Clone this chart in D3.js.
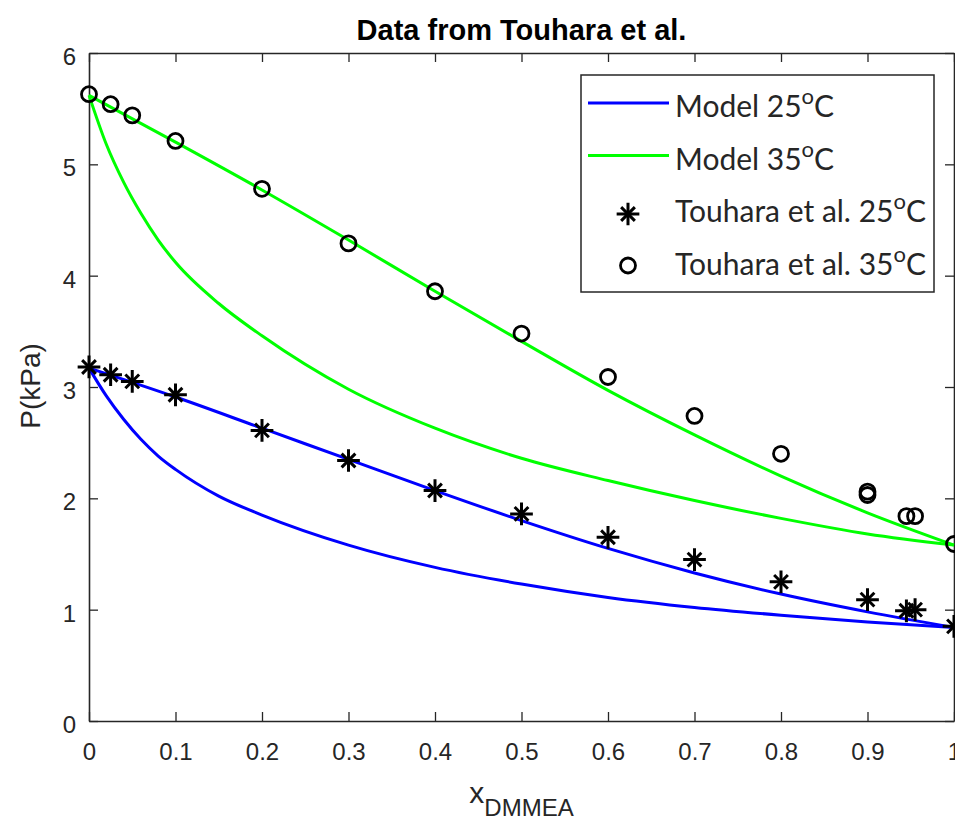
<!DOCTYPE html>
<html>
<head>
<meta charset="utf-8">
<script src="https://cdn.jsdelivr.net/npm/d3@7"></script>
<style>
  body { margin: 0; background: #fff; }
  svg { display: block; }
  .tick text { font-family: "Liberation Sans", Arial, sans-serif; font-size: 24px; fill: #262626; }
  .legend text { font-family: Lato, "Open Sans", sans-serif; font-size: 30px; fill: #262626; }
</style>
</head>
<body>
<svg width="955" height="820"></svg>
<script>
// Touhara et al. experimental points
var xData25 = [0, 0.025, 0.05, 0.1, 0.2, 0.3, 0.4, 0.5, 0.6, 0.7, 0.8, 0.9, 0.945, 0.955, 1];
var pData25 = [3.18, 3.11, 3.05, 2.93, 2.61, 2.34, 2.07, 1.86, 1.65, 1.45, 1.25, 1.09, 0.99, 1.00, 0.85];

var xData35 = [0, 0.025, 0.05, 0.1, 0.2, 0.3, 0.4, 0.5, 0.6, 0.7, 0.8, 0.9, 0.9, 0.945, 0.955, 1];
var pData35 = [5.63, 5.54, 5.44, 5.21, 4.78, 4.29, 3.86, 3.48, 3.09, 2.74, 2.40, 2.06, 2.03, 1.84, 1.84, 1.59];

// model curves (bubble = upper, dew = lower)
var xBubble = [0, 0.1, 0.2, 0.3, 0.4, 0.5, 0.6, 0.7, 0.8, 0.9, 1];
var pBubble25 = [3.17, 2.91, 2.63, 2.35, 2.07, 1.80, 1.55, 1.33, 1.14, 0.98, 0.84];
var pBubble35 = [5.62, 5.20, 4.77, 4.32, 3.86, 3.41, 2.97, 2.57, 2.20, 1.87, 1.58];

var xDew = [0, 0.02, 0.04, 0.06, 0.08, 0.1, 0.15, 0.2, 0.3, 0.4, 0.5, 0.6, 0.7, 0.8, 0.9, 1];
var pDew25 = [3.17, 2.92, 2.71, 2.53, 2.38, 2.26, 2.02, 1.85, 1.58, 1.38, 1.23, 1.11, 1.02, 0.95, 0.89, 0.84];
var pDew35 = [5.62, 5.18, 4.84, 4.56, 4.32, 4.12, 3.75, 3.46, 2.98, 2.63, 2.36, 2.16, 1.98, 1.82, 1.68, 1.58];

var xTicks = [0, 0.1, 0.2, 0.3, 0.4, 0.5, 0.6, 0.7, 0.8, 0.9, 1];
var yTicks = [0, 1, 2, 3, 4, 5, 6];

var BLUE = "#0000ff", GREEN = "#00ff00", AXIS = "#262626";

var svg = d3.select("svg"),
	margin = { top: 53, right: 1, bottom: 99, left: 89 },
	width = +svg.attr("width") - margin.left - margin.right,
	height = +svg.attr("height") - margin.top - margin.bottom,
	g = svg.append("g").attr("transform", "translate(" + margin.left + "," + margin.top + ")");

var x = d3.scaleLinear().domain([0, 1]).range([0, width]);
var y = d3.scaleLinear().domain([0, 6]).range([height, 0]);

function styleAxis(sel) {
	sel.select(".domain").attr("stroke", AXIS).attr("stroke-width", 1.6);
	sel.selectAll(".tick line").attr("stroke", AXIS).attr("stroke-width", 1.3);
}

// box axes with inward ticks
g.append("g").attr("transform", "translate(0," + height + ")")
	.call(d3.axisBottom(x).tickValues(xTicks).tickFormat(d3.format("")).tickSizeInner(-9).tickSizeOuter(0).tickPadding(22))
	.call(styleAxis);
g.append("g")
	.call(d3.axisTop(x).tickValues(xTicks).tickFormat("").tickSizeInner(-9).tickSizeOuter(0))
	.call(styleAxis);
g.append("g")
	.call(d3.axisLeft(y).tickValues(yTicks).tickFormat(d3.format("d")).tickSizeInner(-9).tickSizeOuter(0).tickPadding(13))
	.call(styleAxis)
	.selectAll("text").attr("dy", "0.48em");
g.append("g").attr("transform", "translate(" + width + ",0)")
	.call(d3.axisRight(y).tickValues(yTicks).tickFormat("").tickSizeInner(-9).tickSizeOuter(0))
	.call(styleAxis);

// model lines
function drawCurve(xs, ps, color) {
	var line = d3.line()
		.x(function(d, i) { return x(xs[i]); })
		.y(function(d) { return y(d); })
		.curve(d3.curveMonotoneX);
	g.append("path")
		.attr("d", line(ps))
		.attr("fill", "none")
		.attr("stroke", color)
		.attr("stroke-width", 3);
}
drawCurve(xBubble, pBubble25, BLUE);
drawCurve(xDew, pDew25, BLUE);
drawCurve(xBubble, pBubble35, GREEN);
drawCurve(xDew, pDew35, GREEN);

// MATLAB style '*' = plus + times
var plusSym = d3.symbol().type(d3.symbolPlus).size(170);
var timesSym = d3.symbol().type(d3.symbolTimes).size(125);

function drawStar(sel) {
	sel.append("path").attr("d", plusSym());
	sel.append("path").attr("d", timesSym());
	sel.attr("fill", "none").attr("stroke", "#000").attr("stroke-width", 3);
}

g.selectAll(".star").data(pData25).enter().append("g")
	.attr("class", "star")
	.attr("transform", function(d, i) { return "translate(" + x(xData25[i]) + "," + y(d) + ")"; })
	.each(function() { drawStar(d3.select(this)); });

g.selectAll(".circ").data(pData35).enter().append("circle")
	.attr("class", "circ")
	.attr("cx", function(d, i) { return x(xData35[i]); })
	.attr("cy", function(d) { return y(d); })
	.attr("r", 7.5)
	.attr("fill", "none")
	.attr("stroke", "#000")
	.attr("stroke-width", 2.8);

// title + labels
svg.append("text")
	.attr("x", margin.left + width / 2).attr("y", 40)
	.attr("text-anchor", "middle")
	.attr("font-family", "Liberation Sans, Arial, sans-serif")
	.attr("font-size", 29).attr("font-weight", "bold")
	.attr("fill", "#000")
	.text("Data from Touhara et al.");

var xl = svg.append("text")
	.attr("x", margin.left + width / 2).attr("y", 803)
	.attr("text-anchor", "middle")
	.attr("font-family", "Liberation Sans, Arial, sans-serif")
	.attr("font-size", 30)
	.attr("fill", AXIS);
xl.append("tspan").text("x");
xl.append("tspan").attr("dy", 13).attr("font-size", 24).text("DMMEA");

svg.append("text")
	.attr("transform", "translate(40,386) rotate(-90)")
	.attr("text-anchor", "middle")
	.attr("font-family", "Liberation Sans, Arial, sans-serif")
	.attr("font-size", 28)
	.attr("fill", AXIS)
	.text("P(kPa)");

// legend
var legendNames = ["Model 25", "Model 35", "Touhara et al. 25", "Touhara et al. 35"];
var legendKinds = ["line", "line", "star", "circle"];
var legendColors = [BLUE, GREEN, "#000", "#000"];

var leg = svg.append("g").attr("class", "legend").attr("transform", "translate(581,75)");
leg.append("rect")
	.attr("width", 353).attr("height", 217)
	.attr("fill", "#fff").attr("stroke", AXIS).attr("stroke-width", 1.5);

legendNames.forEach(function(name, i) {
	var cy = 30 + i * 52.5;
	if (legendKinds[i] == "line") {
		leg.append("line")
			.attr("x1", 7).attr("x2", 88).attr("y1", cy - 2).attr("y2", cy - 2)
			.attr("stroke", legendColors[i]).attr("stroke-width", 3);
	} else if (legendKinds[i] == "star") {
		var s = leg.append("g").attr("transform", "translate(47," + (cy + 4) + ")");
		drawStar(s);
	} else {
		leg.append("circle").attr("cx", 47).attr("cy", cy + 3).attr("r", 7.5)
			.attr("fill", "none").attr("stroke", "#000").attr("stroke-width", 2.8);
	}
	var t = leg.append("text").attr("x", 94).attr("y", cy + 12);
	t.append("tspan").text(name);
	t.append("tspan").attr("dy", -13).attr("font-size", 22).text("o");
	t.append("tspan").attr("dy", 13).text("C");
});
</script>
</body>
</html>
